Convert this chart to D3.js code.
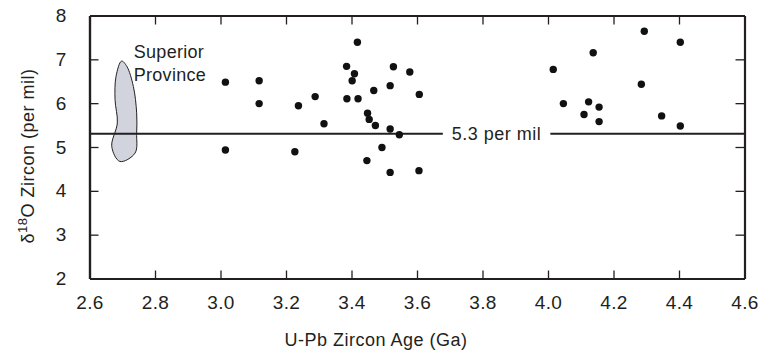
<!DOCTYPE html>
<html>
<head>
<meta charset="utf-8">
<script src="https://cdn.jsdelivr.net/npm/d3@7"></script>
<style>
  html, body { margin: 0; padding: 0; background: #fff; }
  svg text { font-family: "Liberation Sans", Arial, Helvetica, sans-serif; fill: #231f20; }
</style>
</head>
<body>
<svg id="chart" width="758" height="351"></svg>
<script>
// ---- Data ----
const ages = [
  3.015, 3.015, 3.118, 3.118,
  3.418, 3.385, 3.409, 3.402, 3.528, 3.578, 3.289, 3.238, 3.386, 3.420,
  3.468, 3.518, 3.607, 3.316, 3.449, 3.454, 3.473, 3.518, 3.546, 3.227,
  3.493, 3.447, 3.518, 3.606,
  4.294, 4.404, 4.138, 4.016, 4.285, 4.047, 4.124, 4.156, 4.110, 4.156,
  4.347, 4.404
];
const d18O = [
  6.48, 4.93, 6.51, 5.99,
  7.39, 6.84, 6.67, 6.51, 6.83, 6.71, 6.15, 5.94, 6.10, 6.10,
  6.29, 6.40, 6.20, 5.53, 5.77, 5.63, 5.49, 5.41, 5.28, 4.89,
  4.99, 4.69, 4.42, 4.46,
  7.64, 7.39, 7.15, 6.77, 6.43, 5.99, 6.03, 5.91, 5.74, 5.58,
  5.71, 5.48
];
// Superior Province field outline (age, d18O)
const provinceAge  = [2.698, 2.714, 2.734, 2.744, 2.744, 2.739, 2.693, 2.668, 2.685, 2.678, 2.681];
const provinceD18O = [6.96, 6.84, 6.38, 5.78, 5.32, 4.86, 4.67, 5.01, 5.55, 6.08, 6.61];
const provinceLabel = ["Superior", "Province"];

const referenceValue = 5.3;
const referenceLabel = "5.3 per mil";

const xTicks = [2.6, 2.8, 3.0, 3.2, 3.4, 3.6, 3.8, 4.0, 4.2, 4.4, 4.6];
const yTicks = [2, 3, 4, 5, 6, 7, 8];
const xTitle = "U-Pb Zircon Age (Ga)";

// ---- Layout ----
const svg = d3.select("#chart");
const ink = "#231f20";
const x = d3.scaleLinear().domain([2.6, 4.6]).range([89.5, 744.5]);
const y = d3.scaleLinear().domain([2, 8]).range([278.5, 15.5]);
const fontSize = 18;
const tickFont = 19;

function styleAxis(g, showLabels) {
  g.select(".domain").attr("stroke", ink).attr("stroke-width", 2.2);
  g.selectAll(".tick line").attr("stroke", ink).attr("stroke-width", 1.3);
  g.selectAll(".tick text").attr("fill", ink).style("font-size", tickFont + "px")
    .style("letter-spacing", "0.3px");
  if (!showLabels) g.selectAll(".tick text").remove();
}
const innerX = xTicks.slice(1, -1), innerY = yTicks.slice(1, -1);

svg.append("g").attr("transform", `translate(0,${y(2)})`)
  .call(d3.axisBottom(x).tickValues(xTicks).tickFormat(d3.format(".1f")).tickSizeInner(0).tickSizeOuter(0).tickPadding(17))
  .call(g => styleAxis(g, true));
svg.append("g").attr("transform", `translate(0,${y(2)})`)
  .call(d3.axisBottom(x).tickValues(innerX).tickSizeInner(-8).tickSizeOuter(0))
  .call(g => styleAxis(g, false));
svg.append("g").attr("transform", `translate(0,${y(8)})`)
  .call(d3.axisTop(x).tickValues(innerX).tickSizeInner(-9).tickSizeOuter(0))
  .call(g => styleAxis(g, false));
svg.append("g").attr("transform", `translate(${x(2.6)},0)`)
  .call(d3.axisLeft(y).tickValues(yTicks).tickFormat(d3.format("d")).tickSizeInner(0).tickSizeOuter(0).tickPadding(23))
  .call(g => styleAxis(g, true));
svg.append("g").attr("transform", `translate(${x(2.6)},0)`)
  .call(d3.axisLeft(y).tickValues(innerY).tickSizeInner(-9).tickSizeOuter(0))
  .call(g => styleAxis(g, false));
svg.append("g").attr("transform", `translate(${x(4.6)},0)`)
  .call(d3.axisRight(y).tickValues(innerY).tickSizeInner(-9).tickSizeOuter(0))
  .call(g => styleAxis(g, false));

// Superior Province field
const provincePts = provinceAge.map((a, i) => [x(a), y(provinceD18O[i])]);
svg.append("path")
  .attr("d", d3.line().curve(d3.curveCatmullRomClosed.alpha(0.5))(provincePts))
  .attr("fill", "#d2d4dd").attr("stroke", ink).attr("stroke-width", 1);

const lab = svg.append("text").style("font-size", fontSize + "px").style("letter-spacing", "0.3px")
  .attr("x", x(2.735)).attr("y", 58);
lab.append("tspan").attr("x", x(2.735)).attr("dy", 0).text(provinceLabel[0]);
lab.append("tspan").attr("x", x(2.735)).attr("dy", 22.5).text(provinceLabel[1]);

// Reference line with label gap
const refText = svg.append("text").style("font-size", fontSize + "px").style("letter-spacing", "0.5px")
  .attr("x", x(3.843)).attr("y", y(referenceValue) + 6)
  .attr("text-anchor", "middle").text(referenceLabel);
const bb = refText.node().getBBox();
const gap = 9;
svg.append("line").attr("x1", x(2.6)).attr("x2", bb.x - gap)
  .attr("y1", y(referenceValue)).attr("y2", y(referenceValue))
  .attr("stroke", ink).attr("stroke-width", 2);
svg.append("line").attr("x1", bb.x + bb.width + gap).attr("x2", x(4.6))
  .attr("y1", y(referenceValue)).attr("y2", y(referenceValue))
  .attr("stroke", ink).attr("stroke-width", 2);

// Points
svg.append("g").selectAll("circle").data(ages).join("circle")
  .attr("cx", d => x(d)).attr("cy", (d, i) => y(d18O[i])).attr("r", 3.7)
  .attr("fill", "#111");

// Axis titles
svg.append("text").attr("x", 376).attr("y", 346)
  .attr("text-anchor", "middle").style("font-size", fontSize + "px").style("letter-spacing", "0.5px")
  .text(xTitle);

const yt = svg.append("text")
  .attr("transform", `translate(34,156) rotate(-90)`)
  .attr("text-anchor", "middle").style("font-size", fontSize + "px").style("letter-spacing", "0.5px");
yt.append("tspan").text("δ");
yt.append("tspan").attr("dy", -7).style("font-size", "13px").text("18");
yt.append("tspan").attr("dy", 7).text("O Zircon (per mil)");
</script>
</body>
</html>
